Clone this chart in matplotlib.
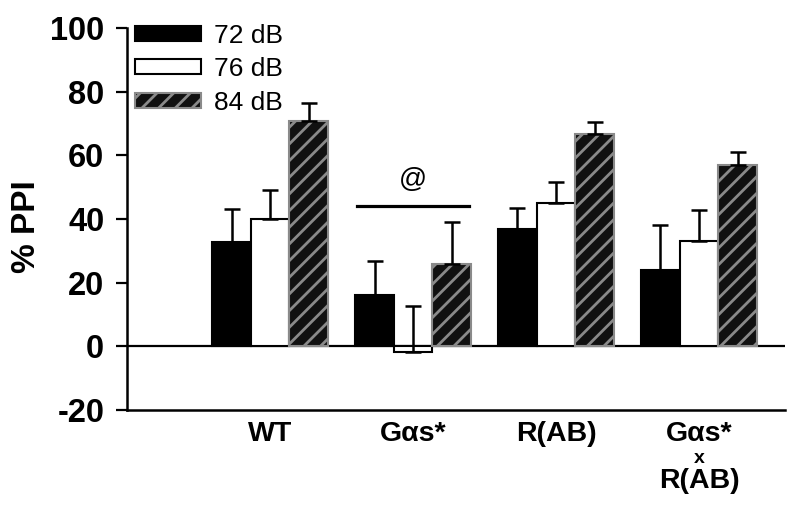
import matplotlib
matplotlib.use('Agg')
import matplotlib.pyplot as plt
import numpy as np

plt.rcParams['font.family'] = ['Liberation Sans', 'DejaVu Sans']
plt.rcParams['axes.unicode_minus'] = False
plt.rcParams['hatch.linewidth'] = 2.0

# values (% PPI, mean and upper SEM)
groups = ['WT', 'Gαs*', 'R(AB)', 'Gαs*']
levels = ['72 dB', '76 dB', '84 dB']
ppi_72 = [32.7, 16.0, 36.8, 23.9]
err_72 = [10.3, 10.7, 6.6, 14.1]
ppi_76 = [40.0, -1.8, 45.0, 33.0]
err_76 = [9.0, 14.4, 6.6, 9.8]
ppi_84 = [70.8, 26.0, 66.7, 57.0]
err_84 = [5.7, 13.0, 3.7, 4.0]
sig_level = 44   # height of the @ bar over Gas*
yticks = [-20, 0, 20, 40, 60, 80, 100]

fig = plt.figure(figsize=(8, 5.17), dpi=100)
ax = fig.add_axes([0.159, 0.207, 0.822, 0.739])

x = np.arange(len(groups))
w = 0.27
styles = [
    dict(color='black', edgecolor='black', linewidth=1.5),
    dict(color='white', edgecolor='black', linewidth=1.5),
    dict(color='#111111', edgecolor='#8a8a8a', linewidth=1.5, hatch='//'),
]
means = [ppi_72, ppi_76, ppi_84]
errs = [err_72, err_76, err_84]
handles = []
for i in range(3):
    xs = x + (i - 1) * w
    b = ax.bar(xs, means[i], w, label=levels[i], zorder=2, **styles[i])
    handles.append(b)
    ax.errorbar(xs, means[i], yerr=[np.zeros(4), errs[i]], fmt='none',
                ecolor='black', elinewidth=1.8, capsize=5.5, capthick=1.8,
                zorder=3)

# zero line
ax.axhline(0, color='black', lw=1.6, zorder=1)

# significance marker over Gas*
ax.plot([x[1] - 1.45 * w, x[1] + 1.45 * w], [sig_level, sig_level],
        color='black', lw=2.3)
ax.text(x[1], sig_level + 4, '@', ha='center', va='bottom', fontsize=20)

ax.set_xlim(-1.0, 3.6)
ax.set_ylim(-20, 100)
ax.set_yticks(yticks)
ax.tick_params(axis='y', length=8, width=1.6, pad=8.5, labelsize=23.5)
for t in ax.get_yticklabels():
    t.set_fontweight('bold')
ax.set_xticks(x, labels=groups)
ax.tick_params(axis='x', length=0, pad=8, labelsize=20.5)
for t in ax.get_xticklabels():
    t.set_fontweight('bold')

# second and third line of the last group label
ax.annotate('x', xy=(x[3], 0), xycoords=('data', 'axes fraction'),
            xytext=(0, -35), textcoords='offset points',
            ha='center', va='center', fontsize=14, fontweight='bold')
ax.annotate('R(AB)', xy=(x[3], 0), xycoords=('data', 'axes fraction'),
            xytext=(0, -42), textcoords='offset points',
            ha='center', va='top', fontsize=20.5, fontweight='bold')

ax.set_ylabel('% PPI', fontsize=24, fontweight='bold')
ax.yaxis.set_label_coords(-0.13, 0.48)

for s in ['top', 'right']:
    ax.spines[s].set_visible(False)
ax.spines['left'].set_linewidth(1.8)
ax.spines['bottom'].set_linewidth(1.8)

ax.legend(handles=handles, loc='upper left', bbox_to_anchor=(0.012, 1.01),
          frameon=False, fontsize=19, handlelength=2.5, handleheight=0.5,
          handletextpad=0.5, labelspacing=0.35, borderpad=0, borderaxespad=0)

plt.savefig('out.png', dpi=100)
